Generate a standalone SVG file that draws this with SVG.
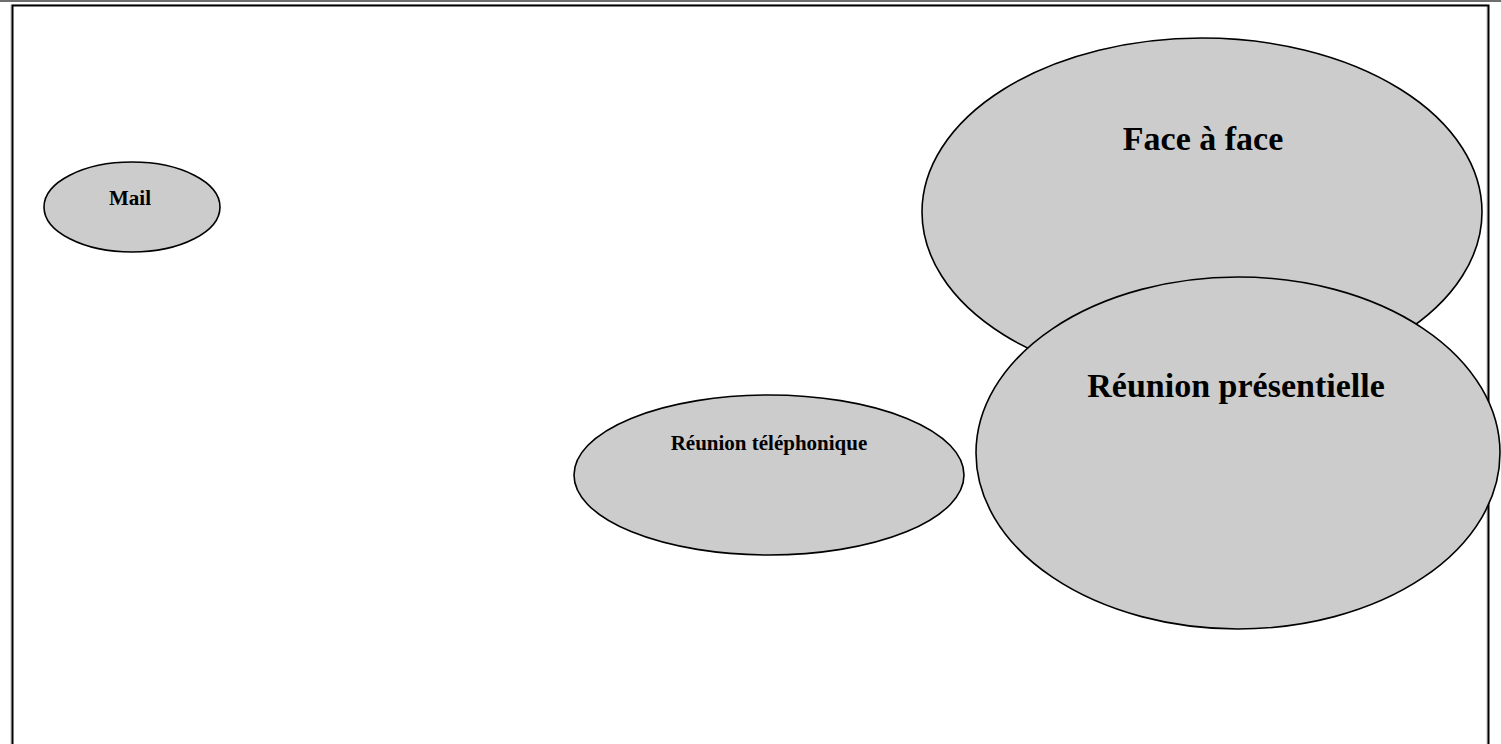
<svg xmlns="http://www.w3.org/2000/svg" width="1501" height="744" viewBox="0 0 1501 744">
<style>
.node{fill:#cccccc;stroke:#000;stroke-width:1.6}
.lbl{font-family:"Liberation Serif","Times New Roman",serif;font-weight:bold;fill:#000;text-anchor:middle}
</style>
<rect x="0" y="0" width="1501" height="744" fill="#fff"/>
<rect x="0" y="0" width="1501" height="2" fill="#6e6e6e"/>
<g id="frame">
<path d="M11 744 V5 H1487 V744" fill="none" stroke="#bdbdbd" stroke-width="1"/>
<path d="M12.5 744 V5.5 H1488.5 V744" fill="none" stroke="#000" stroke-width="2"/>
</g>
<g id="connectors"></g>
<g id="mail">
<ellipse class="node" cx="132" cy="207" rx="88" ry="45"/>
<text class="lbl" x="130" y="205" font-size="21">Mail</text>
</g>
<g id="face-a-face">
<ellipse class="node" cx="1202" cy="212" rx="280" ry="174"/>
<text class="lbl" x="1203" y="150" font-size="34">Face à face</text>
</g>
<g id="reunion-presentielle">
<ellipse class="node" cx="1238" cy="453" rx="262" ry="176"/>
<text class="lbl" x="1236" y="397" font-size="34">Réunion présentielle</text>
</g>
<g id="reunion-telephonique">
<ellipse class="node" cx="769" cy="475" rx="195" ry="80"/>
<text class="lbl" x="769" y="450" font-size="21">Réunion téléphonique</text>
</g>
</svg>
